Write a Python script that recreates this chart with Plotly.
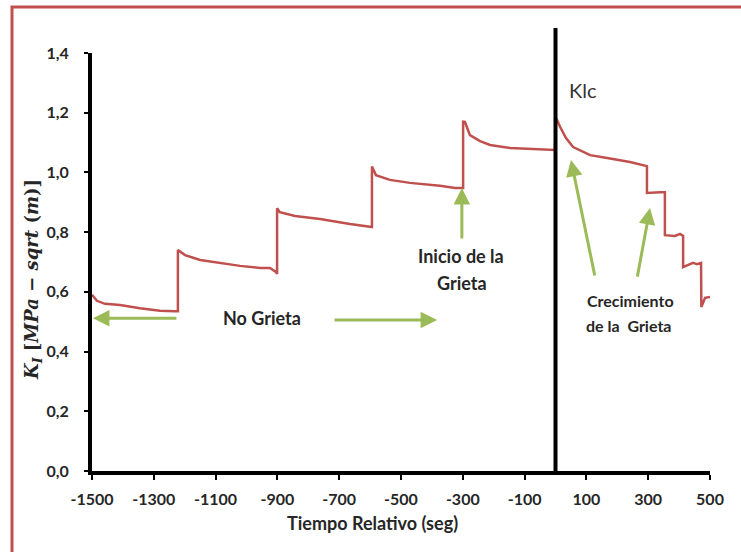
import plotly.graph_objects as go

# ---- data ----
time_s = [-1500, -1484, -1458, -1409, -1345, -1280, -1231, -1222,
          -1222, -1199, -1150, -1086, -1021, -956, -924, -905, -901,
          -901, -892, -843, -762, -665, -594,
          -594, -581, -536, -471, -374, -325, -299,
          -299, -293, -277, -244, -212, -147, -83, -2,
          2, 5, 15, 34, 57, 112, 167, 241, 296,
          296, 338, 354,
          354, 387, 403, 413,
          413, 429, 445, 458, 471,
          472, 484, 500]
k_values = [0.59, 0.57, 0.56, 0.556, 0.545, 0.537, 0.535, 0.535,
            0.74, 0.723, 0.707, 0.697, 0.687, 0.68, 0.68, 0.667, 0.66,
            0.88, 0.867, 0.854, 0.844, 0.827, 0.817,
            1.02, 0.991, 0.975, 0.965, 0.955, 0.948, 0.948,
            1.17, 1.169, 1.125, 1.105, 1.092, 1.082, 1.078, 1.075,
            1.18, 1.176, 1.152, 1.115, 1.085, 1.058, 1.048, 1.035, 1.021,
            0.931, 0.934, 0.934,
            0.79, 0.787, 0.794, 0.787,
            0.683, 0.69, 0.697, 0.693, 0.697,
            0.549, 0.58, 0.583]

x_ticks = [-1500, -1300, -1100, -900, -700, -500, -300, -100, 100, 300, 500]
x_tick_text = ["-1500", "-1300", "-1100", "-900", "-700", "-500", "-300", "-100", "100", "300", "500"]
y_ticks = [0.0, 0.2, 0.4, 0.6, 0.8, 1.0, 1.2, 1.4]

# arrows: (head_x, head_y, tail_x, tail_y)
arrow_head_x = [-1497, -383, -303, 50, 306]
arrow_head_y = [0.512, 0.506, 0.948, 1.042, 0.881]
arrow_tail_x = [-1222, -720, -303, 128, 264]
arrow_tail_y = [0.512, 0.506, 0.774, 0.65, 0.646]

RED = "#c0504d"
GREEN = "#9bbb59"
TXT = "#262626"
FONT = "Lato"

W, H = 741, 552
L, R, T, B = 92, 31, 53, 81
pw, ph = W - L - R, H - T - B


def px2paper(px, py):
    return (px - L) / pw, (H - B - py) / ph


fig = go.Figure()
fig.add_trace(go.Scatter(x=time_s, y=k_values, mode="lines",
                         line=dict(color=RED, width=2.5), hoverinfo="skip",
                         showlegend=False))

annotations = []
for hx, hy, tx, ty in zip(arrow_head_x, arrow_head_y, arrow_tail_x, arrow_tail_y):
    annotations.append(dict(x=hx, y=hy, ax=tx, ay=ty, xref="x", yref="y",
                            axref="x", ayref="y", text="", showarrow=True,
                            arrowhead=2, arrowsize=1.1, arrowwidth=3,
                            arrowcolor=GREEN))


def label(text, px, py, size, bold=True, color=TXT, family=FONT, angle=0):
    xx, yy = px2paper(px, py)
    f = dict(family=family, size=size, color=color)
    if bold:
        f["weight"] = "bold"
    return dict(x=xx, y=yy, xref="paper", yref="paper", text=text,
                showarrow=False, xanchor="center", yanchor="middle",
                textangle=angle, font=f)


annotations += [
    label("No Grieta", 262, 318, 18),
    label("Inicio de la", 461, 256, 18),
    label("Grieta", 462, 283, 18),
    label("Crecimiento", 630, 300, 16),
    label("de la  Grieta", 628, 325, 16),
    label("Klc", 583, 90, 20, bold=False, color="#333333"),
    label("Tiempo Relativo (seg)", 372, 523, 18),
    label("<b><i>K<sub>I</sub></i> [<i>MPa</i> − <i>sqrt</i> (<i>m</i>)]</b>",
          33, 280, 18, bold=False, family="DejaVu Serif", angle=-90),
]

lx, ty_ = px2paper(12, 7)
_, by_ = px2paper(12, 600)
shapes = [
    # vertical line at t = 0
    dict(type="line", xref="x", yref="paper", x0=0, x1=0, y0=0, y1=1 + 25 / ph,
         line=dict(color="black", width=4)),
    # outer red frame: only the left edge and the top edge (open path)
    dict(type="path", xref="paper", yref="paper",
         path=f"M {lx},{by_} L {lx},{ty_} L 1.06,{ty_}",
         line=dict(color=RED, width=3)),
]

fig.update_layout(
    width=W, height=H,
    margin=dict(l=L, r=R, t=T, b=B),
    paper_bgcolor="white", plot_bgcolor="white",
    separators=",.",
    showlegend=False,
    annotations=annotations,
    shapes=shapes,
    xaxis=dict(range=[-1500, 500], tickvals=x_ticks, ticktext=x_tick_text,
               showline=True, linecolor="black", linewidth=4,
               ticks="outside", ticklen=5, tickwidth=2, tickcolor="black",
               ticklabelstandoff=6,
               showgrid=False, zeroline=False,
               tickfont=dict(family=FONT, size=16, color=TXT, weight="bold")),
    yaxis=dict(range=[0, 1.4], tickvals=y_ticks, tickformat=".1f",
               showline=True, linecolor="black", linewidth=4,
               ticks="outside", ticklen=4, tickwidth=2, tickcolor="black",
               ticklabelstandoff=12,
               showgrid=False, zeroline=False,
               tickfont=dict(family=FONT, size=16, color=TXT, weight="bold")),
)

fig.write_html("out.html", config={"displayModeBar": False},
               post_script="document.body.style.margin='0';")
